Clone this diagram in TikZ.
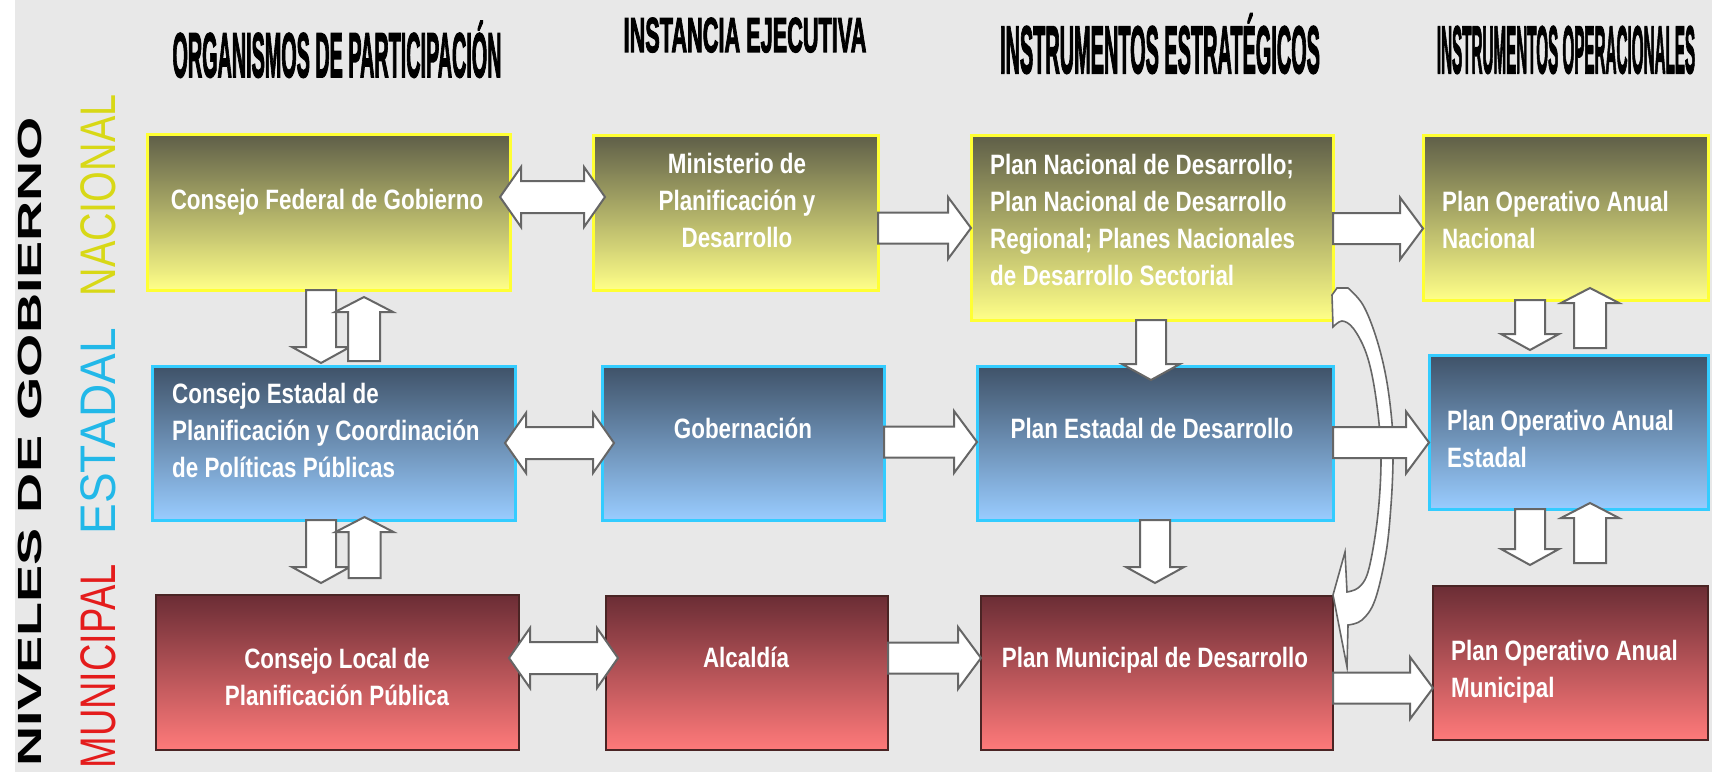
\documentclass[tikz,border=0pt]{standalone}
\usepackage{fontspec}
\setmainfont{Liberation Sans}
\newfontfamily\ttlfont{Liberation Sans Bold}[FakeBold=3]
\usepackage{graphicx}
\usetikzlibrary{calc}
\definecolor{bgc}{HTML}{E8E8E8}
\definecolor{ytop}{HTML}{5E5E48}
\definecolor{ymid}{HTML}{ABAB52}
\definecolor{ybot}{HTML}{FFFF88}
\definecolor{yborder}{HTML}{FFFF33}
\definecolor{btop}{HTML}{3F5268}
\definecolor{bmid}{HTML}{6A8FB5}
\definecolor{bbot}{HTML}{99CCFF}
\definecolor{bborder}{HTML}{33CCFF}
\definecolor{rtop}{HTML}{6B2D35}
\definecolor{rmid}{HTML}{B8505A}
\definecolor{rbot}{HTML}{FF7A7A}
\definecolor{rborder}{HTML}{4A2424}
\definecolor{arrline}{HTML}{666666}
\definecolor{nacc}{HTML}{D8D816}
\definecolor{estc}{HTML}{22B8E8}
\definecolor{munc}{HTML}{E41C1C}
\newcommand\bt[2]{\scalebox{0.8}[1]{\begin{tabular}{@{}#1@{}}#2\end{tabular}}}
\newcommand\rarr[3]{%
  \draw[blockarrow] ($(#1.east|-0,#3)+(0,-15.5)$) -- ($(#2.west|-0,#3)+(-23,-15.5)$) -- ($(#2.west|-0,#3)+(-23,-31)$) -- (#2.west|-0,#3) -- ($(#2.west|-0,#3)+(-23,31)$) -- ($(#2.west|-0,#3)+(-23,15.5)$) -- ($(#1.east|-0,#3)+(0,15.5)$) -- cycle;}
\newcommand\darr[3]{%
  \coordinate (L) at ($(#1.east|-0,#3)+(-10,0)$);
  \coordinate (R) at ($(#2.west|-0,#3)+(12,0)$);
  \draw[blockarrow] (L) -- ++(21,-30) -- ++(0,14) -- ($(R)+(-21,-16)$) -- ++(0,-14) -- (R) -- ++(-21,30) -- ++(0,-14) -- ($(L)+(21,16)$) -- ++(0,14) -- cycle;}
\newcommand\dnarr[4]{%
  \coordinate (S) at (#3,0 |- #1.south);
  \coordinate (T) at ($(#3,0 |- #2.north)+(0,#4)$);
  \draw[blockarrow] ($(S)+(-15,0)$) -- ($(T)+(-15,-16)$) -- ($(T)+(-29,-16)$) -- (T) -- ($(T)+(29,-16)$) -- ($(T)+(15,-16)$) -- ($(S)+(15,0)$) -- cycle;}
\newcommand\uparr[5]{%
  \coordinate (U) at ($(#3,0 |- #1.south)+(0,#4)$);
  \coordinate (B) at ($(#3,0 |- #2.north)+(0,#5)$);
  \draw[blockarrow] ($(B)+(-16,0)$) -- ($(U)+(-16,15)$) -- ($(U)+(-29,15)$) -- (U) -- ($(U)+(29,15)$) -- ($(U)+(16,15)$) -- ($(B)+(16,0)$) -- cycle;}
\begin{document}
\begin{tikzpicture}[x=1pt,y=-1pt,
  boxbase/.style={rectangle, inner sep=0pt, outer sep=0pt},
  yelbox/.style={boxbase, draw=yborder, line width=3pt, top color=ytop, middle color=ymid, bottom color=ybot},
  bluebox/.style={boxbase, draw=bborder, line width=3pt, top color=btop, middle color=bmid, bottom color=bbot},
  redbox/.style={boxbase, draw=rborder, line width=2.5pt, top color=rtop, middle color=rmid, bottom color=rbot},
  blockarrow/.style={fill=white, draw=arrline, line width=2pt, line join=miter},
  btxt/.style={text=white, inner sep=0pt, font=\fontsize{28}{37}\selectfont\bfseries},
  ttl/.style={anchor=base, inner sep=0pt, text=black, font=\ttlfont},
  vlab/.style={rotate=90, anchor=base, inner sep=0pt}]
\useasboundingbox (0,0) rectangle (1712,773);
\fill[white] (0,0) rectangle (1712,773);
\fill[bgc] (15,0) rectangle (1712,772);

% titles
\node[ttl] (t1) at (337,77) {\scalebox{0.314}[1]{\fontsize{63}{63}\selectfont ORGANISMOS DE PARTICIPACIÓN}};
\node[ttl] (t2) at (745,52) {\scalebox{0.443}[1]{\fontsize{49}{49}\selectfont INSTANCIA EJECUTIVA}};
\node[ttl] (t3) at (1160,73) {\scalebox{0.297}[1]{\fontsize{67}{67}\selectfont INSTRUMENTOS ESTRATÉGICOS}};
\node[ttl] (t4) at (1566,73) {\scalebox{0.227}[1]{\fontsize{67}{67}\selectfont INSTRUMENTOS OPERACIONALES}};

% vertical labels
\node[vlab] (niv) at (41,442) {\scalebox{1.66}[1]{\fontsize{33.5}{34}\selectfont\bfseries NIVELES DE GOBIERNO}};
\node[vlab, text=nacc] (nac) at (115,195.5) {\scalebox{0.79}[1]{\fontsize{50}{50}\selectfont NACIONAL}};
\node[vlab, text=estc] (est) at (115,431.5) {\scalebox{0.92}[1]{\fontsize{50}{50}\selectfont ESTADAL}};
\node[vlab, text=munc] (mun) at (115,666.5) {\scalebox{0.76}[1]{\fontsize{50}{50}\selectfont MUNICIPAL}};

% boxes
\node[yelbox, minimum width=363pt, minimum height=156pt] (a1) at (328.5,212) {};
\node[yelbox, minimum width=285pt, minimum height=155pt] (b1) at (735.5,212.5) {};
\node[yelbox, minimum width=362pt, minimum height=185pt] (c1) at (1152,227.5) {};
\node[yelbox, minimum width=285pt, minimum height=165pt] (d1) at (1565.5,217.5) {};
\node[bluebox, minimum width=363pt, minimum height=154pt] (a2) at (333.5,443) {};
\node[bluebox, minimum width=282pt, minimum height=154pt] (b2) at (743,443) {};
\node[bluebox, minimum width=356pt, minimum height=154pt] (c2) at (1155,443) {};
\node[bluebox, minimum width=279pt, minimum height=154pt] (d2) at (1568.5,432) {};
\node[redbox, minimum width=363pt, minimum height=155pt] (a3) at (337.5,672.5) {};
\node[redbox, minimum width=282pt, minimum height=154pt] (b3) at (747,673) {};
\node[redbox, minimum width=352pt, minimum height=154pt] (c3) at (1157,673) {};
\node[redbox, minimum width=275pt, minimum height=154pt] (d3) at (1570.5,663) {};

% curved arrow from c1 to c3
\draw[blockarrow, line width=1.6pt] plot[smooth, tension=0.6] coordinates {(1348,288) (1363,305) (1376,337) (1386,377) (1392,423) (1393,460) (1391,505) (1386,553) (1375,600) (1362,620) (1348,625)} -- (1347,667) -- (1333,595) -- (1345,552) -- (1347,592) -- plot[smooth, tension=0.6] coordinates {(1347,592) (1358,588) (1367,575) (1374,543) (1379,503) (1381,460) (1379,423) (1373,380) (1365,350) (1353,328) (1342,321) (1333,327)} -- (1332,295) -- (1337,288) -- cycle;

% horizontal arrows
\darr{a1}{b1}{197}
\darr{a2}{b2}{443}
\darr{a3}{b3}{658}
\rarr{b1}{c1}{228}
\rarr{c1}{d1}{228.5}
\rarr{b2}{c2}{442}
\rarr{c2}{d2}{442.5}
\rarr{b3}{c3}{658}
\rarr{c3}{d3}{688}

% vertical arrows
\dnarr{a1}{a2}{321}{-3}
\uparr{a1}{a2}{364}{7}{-5}
\dnarr{a2}{a3}{321}{-12}
\uparr{a2}{a3}{364.5}{-3}{-17}
\dnarr{c1}{c2}{1151}{14}
\dnarr{c2}{c3}{1155}{-13}
\dnarr{d1}{d2}{1530}{-5}
\uparr{d1}{d2}{1590}{-12}{-7}
\dnarr{d2}{d3}{1530}{-21}
\uparr{d2}{d3}{1590}{-6}{-23}

% box texts
\node[btxt] (a1t) at (327,202) {\bt{c}{Consejo Federal de Gobierno}};
\node[btxt] (b1t) at (737,203.5) {\bt{c}{Ministerio de\\Planificación y\\Desarrollo}};
\node[btxt, anchor=west] (c1t) at (990,223) {\bt{l}{Plan Nacional de Desarrollo;\\Plan Nacional de Desarrollo\\Regional; Planes Nacionales\\de Desarrollo Sectorial}};
\node[btxt, anchor=west] (d1t) at (1442,222.5) {\bt{l}{Plan Operativo Anual\\Nacional}};
\node[btxt, anchor=west] (a2t) at (172,433.5) {\bt{l}{Consejo Estadal de\\Planificación y Coordinación\\de Políticas Públicas}};
\node[btxt] (b2t) at (743,431) {\bt{c}{Gobernación}};
\node[btxt] (c2t) at (1152,431) {\bt{c}{Plan Estadal de Desarrollo}};
\node[btxt, anchor=west] (d2t) at (1447,441.5) {\bt{l}{Plan Operativo Anual\\Estadal}};
\node[btxt] (a3t) at (337,679.5) {\bt{c}{Consejo Local de\\Planificación Pública}};
\node[btxt] (b3t) at (746,660) {\bt{c}{Alcaldía}};
\node[btxt] (c3t) at (1155,660) {\bt{c}{Plan Municipal de Desarrollo}};
\node[btxt, anchor=west] (d3t) at (1451,671.5) {\bt{l}{Plan Operativo Anual\\Municipal}};
\end{tikzpicture}
\end{document}
